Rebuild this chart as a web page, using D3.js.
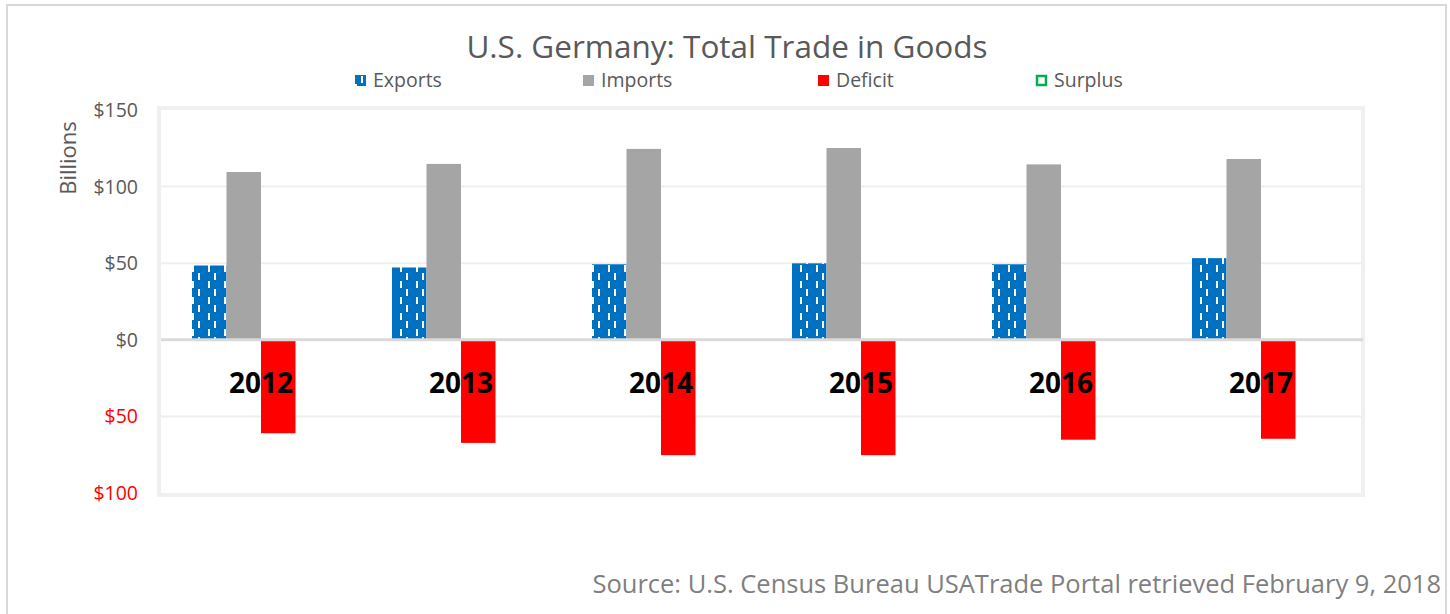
<!DOCTYPE html>
<html>
<head>
<meta charset="utf-8">
<script src="https://cdn.jsdelivr.net/npm/d3@7"></script>
<style>
  body { margin: 0; background: #fff; }
  text { font-family: "Open Sans", "Noto Sans", sans-serif; }
</style>
</head>
<body>
<script>
var years = ["2012", "2013", "2014", "2015", "2016", "2017"];
var seriesNames = ["Exports", "Imports", "Deficit", "Surplus"];
var exportsVals = [48.5, 47.2, 49.3, 49.9, 49.3, 53.3];
var importsVals = [109.5, 114.8, 124.6, 125.2, 114.5, 118.0];
var deficitVals = [-61.0, -67.3, -75.3, -75.3, -65.2, -64.6];
var surplusVals = [0, 0, 0, 0, 0, 0];
var yTicks = [-100, -50, 0, 50, 100, 150];

var width = 1450, height = 614;
var plotLeft = 161, plotRight = 1361, plotTop = 110, plotBottom = 493;
var groupWidth = 138;

var svg = d3.select("body").append("svg")
    .attr("width", width)
    .attr("height", height);

// pattern for exports (dashed vertical)
var defs = svg.append("defs");
var pat = defs.append("pattern")
    .attr("id", "dashvert")
    .attr("patternUnits", "userSpaceOnUse")
    .attr("width", 16)
    .attr("height", 16);
pat.append("rect").attr("width", 16).attr("height", 16).attr("fill", "#0070C0");
pat.append("rect").attr("x", 6).attr("y", 1).attr("width", 2).attr("height", 7).attr("fill", "#fff");
pat.append("rect").attr("x", 0).attr("y", 9).attr("width", 2).attr("height", 7).attr("fill", "#fff");

// outer frame
svg.append("rect")
    .attr("x", 7).attr("y", 5)
    .attr("width", 1439).attr("height", 620)
    .attr("fill", "none")
    .attr("stroke", "#d9d9d9")
    .attr("stroke-width", 2);

var x0 = d3.scaleBand().domain(years).range([plotLeft, plotRight]);
var x1 = d3.scaleBand().domain(seriesNames).range([0, groupWidth]);
var y = d3.scaleLinear().domain([-100, 150]).range([plotBottom, plotTop]);

// plot area border
svg.append("rect")
    .attr("x", plotLeft - 2).attr("y", y(150) - 2)
    .attr("width", plotRight - plotLeft + 4).attr("height", y(-100) - y(150) + 4)
    .attr("fill", "none")
    .attr("stroke", "#f0f0f0")
    .attr("stroke-width", 4);

// gridlines
svg.selectAll(".grid")
    .data(yTicks.filter(function(t){ return t != 0 && t != 150 && t != -100; }))
    .enter().append("line")
    .attr("x1", plotLeft).attr("x2", plotRight)
    .attr("y1", function(d){ return y(d); })
    .attr("y2", function(d){ return y(d); })
    .attr("stroke", "#efefef")
    .attr("stroke-width", 2);

// y tick labels
svg.selectAll(".ylab")
    .data(yTicks)
    .enter().append("text")
    .attr("x", 138)
    .attr("y", function(d){ return y(d) + 7; })
    .attr("text-anchor", "end")
    .attr("font-size", 19.5)
    .attr("fill", function(d){ return d < 0 ? "#ff0000" : "#595959"; })
    .text(function(d){ return "$" + Math.abs(d); });

svg.append("text")
    .attr("transform", "translate(76,158) rotate(-90)")
    .attr("text-anchor", "middle")
    .attr("font-size", 22)
    .attr("fill", "#595959")
    .text("Billions");

// bars
var off = (x0.bandwidth() - groupWidth) / 2;
var seriesData = [
    { name: "Exports", vals: exportsVals, fill: "url(#dashvert)" },
    { name: "Imports", vals: importsVals, fill: "#a5a5a5" },
    { name: "Deficit", vals: deficitVals, fill: "#ff0000" },
    { name: "Surplus", vals: surplusVals, fill: "#00b050" }
];

seriesData.forEach(function(s){
    svg.selectAll(".bar-" + s.name)
        .data(s.vals)
        .enter().append("rect")
        .attr("x", function(d, i){ return x0(years[i]) + off + x1(s.name); })
        .attr("width", x1.bandwidth())
        .attr("y", function(d){ return y(Math.max(0, d)); })
        .attr("height", function(d){ return Math.abs(y(d) - y(0)); })
        .attr("fill", s.fill);
});

// zero line
svg.append("line")
    .attr("x1", plotLeft).attr("x2", plotRight + 2)
    .attr("y1", y(0)).attr("y2", y(0))
    .attr("stroke", "#d9d9d9")
    .attr("stroke-width", 3);

// category labels
svg.selectAll(".cat")
    .data(years)
    .enter().append("text")
    .attr("x", function(d){ return x0(d) + x0.bandwidth() / 2; })
    .attr("y", 393)
    .attr("text-anchor", "middle")
    .attr("font-size", 28)
    .attr("font-weight", "bold")
    .attr("fill", "#000")
    .text(function(d){ return d; });

// title
svg.append("text")
    .attr("x", 727).attr("y", 58)
    .attr("text-anchor", "middle")
    .attr("font-size", 31.5)
    .attr("fill", "#595959")
    .text("U.S. Germany: Total Trade in Goods");

// legend
var legendX = [355, 583, 818, 1036];
var legend = svg.selectAll(".legend")
    .data(seriesData)
    .enter().append("g")
    .attr("transform", function(d, i){ return "translate(" + legendX[i] + ",75)"; });
legend.append("rect")
    .attr("x", function(d){ return d.name == "Surplus" ? 1 : 0; })
    .attr("y", function(d){ return d.name == "Surplus" ? 1 : 0; })
    .attr("fill", function(d){ return d.name == "Surplus" ? "#fff" : d.fill; })
    .attr("stroke", function(d){ return d.name == "Surplus" ? "#00b050" : "none"; })
    .attr("stroke-width", 2.5)
    .attr("width", function(d){ return d.name == "Surplus" ? 9 : 11; })
    .attr("height", function(d){ return d.name == "Surplus" ? 9 : 11; });
legend.append("text")
    .attr("x", 18).attr("y", 12)
    .attr("font-size", 19.5)
    .attr("fill", "#595959")
    .text(function(d){ return d.name; });

// source
svg.append("text")
    .attr("x", 1441).attr("y", 593)
    .attr("text-anchor", "end")
    .attr("font-size", 25.5)
    .attr("fill", "#7f7f7f")
    .text("Source: U.S. Census Bureau USATrade Portal retrieved February 9, 2018");
</script>
</body>
</html>
